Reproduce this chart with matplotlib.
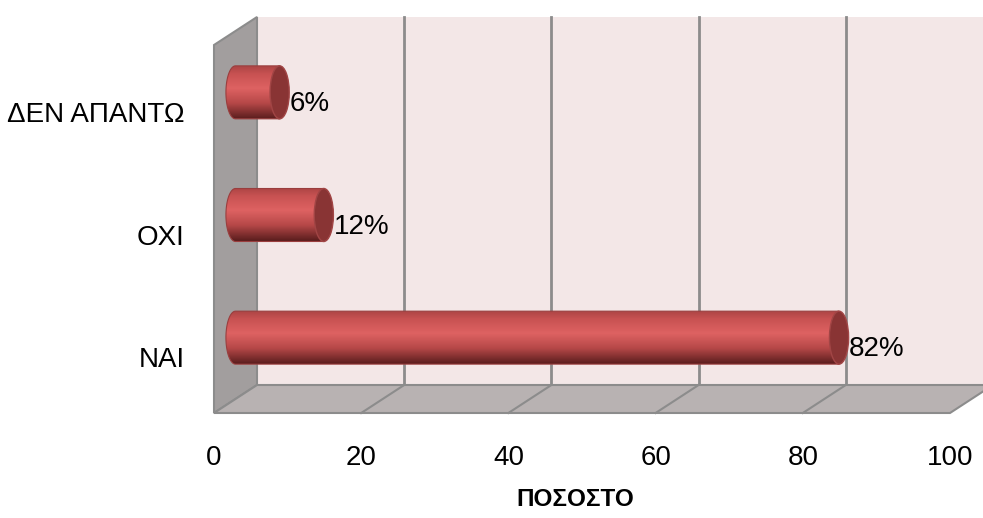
import matplotlib
matplotlib.use("Agg")
import matplotlib.pyplot as plt
import numpy as np
from matplotlib.patches import Polygon, Ellipse, Rectangle, PathPatch
from matplotlib.path import Path
from matplotlib.colors import LinearSegmentedColormap

categories = ['ΝΑΙ', 'ΟΧΙ', 'ΔΕΝ ΑΠΑΝΤΩ']
values = [82, 12, 6]
value_labels = ['82%', '12%', '6%']
xticks = [0, 20, 40, 60, 80, 100]
xlabel = 'ΠΟΣΟΣΤΟ'

plt.rcParams['font.family'] = ['Liberation Sans', 'DejaVu Sans']

W, H = 983, 518
fig = plt.figure(figsize=(W / 100, H / 100), dpi=100)
# front plane of the 3d box (pixels): x 214..950, y 45..413 from top
ax = fig.add_axes([214 / W, (H - 413) / H, 736 / W, 368 / H])
ax.set_xlim(0, 100)
ax.set_ylim(-0.5, 2.5)
ax.patch.set_visible(False)
for s in ax.spines.values():
    s.set_visible(False)

# depth of the box in data units (43 px right, 28 px up)
dx = 43 / 736 * 100
dy = 28 / 368 * 3

grid_col = '#8c8c8c'

# back wall + gridlines
ax.add_patch(Rectangle((dx, -0.5 + dy), 100, 3, fc='#f3e7e7', ec='none',
                       clip_on=False, zorder=0))
for t in xticks[1:-1]:
    ax.plot([t + dx, t + dx], [-0.5 + dy, 2.5 + dy], color=grid_col, lw=2,
            clip_on=False, zorder=1)

# side wall
ax.add_patch(Polygon([(0, -0.5), (dx, -0.5 + dy), (dx, 2.5 + dy), (0, 2.5)],
                     closed=True, fc='#a29e9e', ec=grid_col, lw=1.5,
                     clip_on=False, zorder=2))
# floor
ax.add_patch(Polygon([(0, -0.5), (100, -0.5), (100 + dx, -0.5 + dy), (dx, -0.5 + dy)],
                     closed=True, fc='#b8b2b2', ec=grid_col, lw=1.5,
                     clip_on=False, zorder=2))
for t in xticks[1:-1]:
    ax.plot([t, t + dx], [-0.5, -0.5 + dy], color=grid_col, lw=1.5,
            clip_on=False, zorder=3)

# cylinder bars
cmap = LinearSegmentedColormap.from_list('cyl', [
    (0.0, '#ad4545'), (0.15, '#c85252'), (0.42, '#de6262'),
    (0.7, '#b64848'), (0.88, '#7e2e2e'), (1.0, '#5a1d1d')])
grad = np.linspace(0, 1, 256).reshape(-1, 1)
h = 0.216
cw = 2.6
theta = np.linspace(-np.pi / 2, np.pi / 2, 60)
for i, (v, lab) in enumerate(zip(values, value_labels)):
    yc = i + dy / 2
    x0 = dx / 2
    x1 = v + dx / 2
    arc_x = x0 - cw / 2 * np.cos(theta)
    arc_y = yc + h * np.sin(theta)
    verts = list(zip(arc_x, arc_y)) + [(x1, yc + h), (x1, yc - h), (arc_x[0], arc_y[0])]
    body = PathPatch(Path(verts, closed=True), fc='none', ec='#9a3e3e', lw=0.8, zorder=5)
    ax.add_patch(body)
    im = ax.imshow(grad, extent=[x0 - cw, x1, yc - h, yc + h], cmap=cmap,
                   aspect='auto', origin='upper', zorder=4)
    im.set_clip_path(body)
    ax.add_patch(Ellipse((x1, yc), cw, 2 * h, fc='#893434', ec='#a14545', lw=1, zorder=6))
    ax.text(x1 + cw / 2, i + 0.02, lab, fontsize=20, ha='left', va='center', zorder=7)

ax.set_xlim(0, 100)
ax.set_ylim(-0.5, 2.5)

ax.set_xticks(xticks)
ax.set_xticklabels([str(t) for t in xticks], fontsize=20)
ax.set_yticks([i - 0.045 for i in range(len(categories))])
ax.set_yticklabels(categories, fontsize=20)
ax.tick_params(axis='x', length=0, pad=23)
ax.tick_params(axis='y', length=0, pad=21)

ax.set_xlabel(xlabel, fontsize=17.5, fontweight='bold', va='center')
ax.xaxis.set_label_coords((575 - 214) / 736, -(500 - 413) / 368)

fig.savefig('out.png', dpi=100)
